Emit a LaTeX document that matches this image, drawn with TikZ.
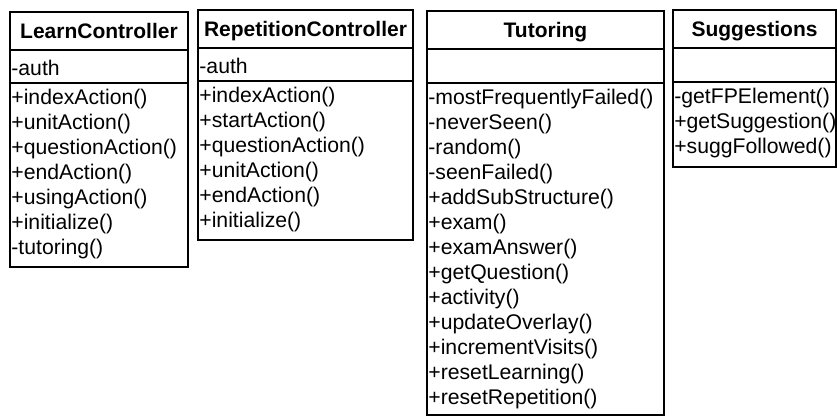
\documentclass[tikz,border=0pt]{standalone}
\usepackage{fontspec}
\setmainfont{Liberation Sans}
\begin{document}
\begin{tikzpicture}[x=1pt,y=-1pt,
  box/.style={draw=black,line width=1.3pt},
  sep/.style={draw=black,line width=1.3pt},
  title/.style={font=\bfseries\fontsize{21}{25}\selectfont,anchor=base,inner sep=0pt},
  member/.style={font=\fontsize{21.2}{25}\selectfont,anchor=base west,inner sep=0pt}]
\path[use as bounding box,fill=white] (0,0) rectangle (837,416);

% LearnController
\draw[box] (10,12) rectangle (188,267);
\draw[sep] (10,50) -- (188,50);
\draw[sep] (10,83) -- (188,83);
\node[title] (lcT) at (99,38) {LearnController};
\node[member] (lcA) at (11.2,75) {-auth};
\foreach \m [count=\i] in {+indexAction(),+unitAction(),+questionAction(),+endAction(),+usingAction(),+initialize(),-tutoring()}
  \node[member] (lcM\i) at (11.2,{104+25*(\i-1)}) {\m};

% RepetitionController
\draw[box] (198,10) rectangle (413,240);
\draw[sep] (198,48) -- (413,48);
\draw[sep] (198,81) -- (413,81);
\node[title] (rcT) at (305.5,36) {RepetitionController};
\node[member] (rcA) at (199.2,73) {-auth};
\foreach \m [count=\i] in {+indexAction(),+startAction(),+questionAction(),+unitAction(),+endAction(),+initialize()}
  \node[member] (rcM\i) at (199.2,{102+25*(\i-1)}) {\m};

% Tutoring
\draw[box] (427,11) rectangle (664,415);
\draw[sep] (427,49) -- (664,49);
\draw[sep] (427,83) -- (664,83);
\node[title] (tuT) at (545.5,37) {Tutoring};
\foreach \m [count=\i] in {-mostFrequentlyFailed(),-neverSeen(),-random(),-seenFailed(),+addSubStructure(),+exam(),+examAnswer(),+getQuestion(),+activity(),+updateOverlay(),+incrementVisits(),+resetLearning(),+resetRepetition()}
  \node[member] (tuM\i) at (428.2,{104+25*(\i-1)}) {\m};

% Suggestions
\draw[box] (673,10) rectangle (836,167);
\draw[sep] (673,48) -- (836,48);
\draw[sep] (673,82) -- (836,82);
\node[title] (suT) at (754.5,36) {Suggestions};
\foreach \m [count=\i] in {-getFPElement(),+getSuggestion(),+suggFollowed()}
  \node[member] (suM\i) at (674.1,{103+25*(\i-1)}) {\m};
\end{tikzpicture}
\end{document}
